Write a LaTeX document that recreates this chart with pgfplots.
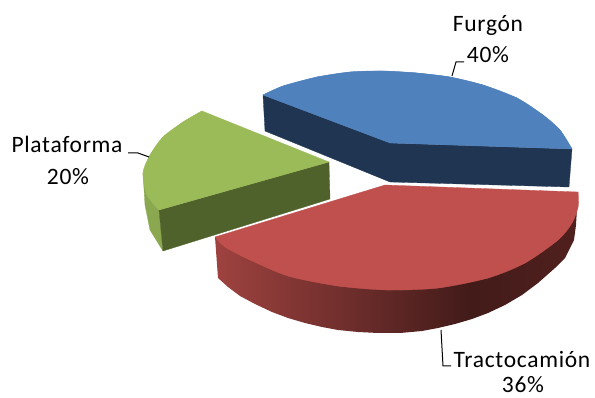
\documentclass[border=0pt]{standalone}
\usepackage{fontspec}
\setmainfont{Carlito}[LetterSpace=3]
\usepackage{pgfplots}
\pgfplotsset{compat=1.18}
\definecolor{blueTop}{RGB}{79,129,189}
\definecolor{blueSide}{RGB}{31,53,82}
\definecolor{greenTop}{RGB}{155,187,89}
\definecolor{greenSide}{RGB}{79,98,44}
\definecolor{greenEdge}{RGB}{138,168,80}
\definecolor{redTop}{RGB}{192,80,77}
\tikzset{lab/.style={font=\fontsize{23.5}{23.5}\selectfont, anchor=base, text=black, inner sep=0pt}}
% outer wall of the red slice: light on the left, darkest at about 70 percent of its width
\pgfdeclarehorizontalshading{redwall}{100bp}{
  rgb(0bp)=(0.62,0.26,0.25);
  rgb(25bp)=(0.62,0.26,0.25);
  rgb(60bp)=(0.26,0.106,0.098);
  rgb(75bp)=(0.314,0.125,0.118);
  rgb(100bp)=(0.314,0.125,0.118)}
\begin{document}
\begin{tikzpicture}
\useasboundingbox (0,0) rectangle (595pt,398pt);
\begin{axis}[
  at={(0,0)}, anchor=south west,
  scale only axis, width=595pt, height=398pt,
  xmin=0, xmax=595, ymin=0, ymax=398, y dir=reverse,
  hide axis, clip=false,
  every axis plot/.append style={line width=0.3pt},
]
% Furgón, 40%: wall, then top face
\addplot[fill=blueSide, draw=blueSide] coordinates {(263,95) (265,131) (390,182) (569,187) (572,149) (390,143)} -- cycle;
\addplot[fill=blueTop, draw=blueTop] coordinates {(390,143) (263,95) (283,86) (317,77) (350,72) (383,71) (417,73) (450,77) (483,85) (517,98) (543,115) (560,130) (572,149)} -- cycle;
\addplot[fill=blueTop, draw=blueTop, smooth] coordinates {(263,95) (283,86) (317,77) (350,72) (383,71) (417,73) (450,77) (483,85) (517,98) (543,115) (560,130) (572,149)};
% Plataforma, 20%
\addplot[fill=greenEdge, draw=greenEdge] coordinates {(143,173) (145,205) (150,230) (163,251) (159,210) (147,195)} -- cycle;
\addplot[fill=greenSide, draw=greenSide] coordinates {(159,210) (329,162) (330,199) (163,251)} -- cycle;
\addplot[fill=greenTop, draw=greenTop] coordinates {(329,162) (202,111) (183,122) (163,137) (150,155) (143,173) (147,195) (159,210)} -- cycle;
\addplot[fill=greenTop, draw=greenTop, smooth] coordinates {(202,111) (183,122) (163,137) (150,155) (143,173) (147,195) (159,210)};
% Tractocamión, 36%: shaded outer wall, its upper edge hidden under the top face
\addplot[shade, shading=redwall, draw=none] coordinates {
  (215,237) (240,240) (300,260) (380,270) (460,265) (530,240) (570,205) (578,192)
  (576,225) (574,240) (565,258) (555,268) (538,283) (522,295) (505,305) (488,313)
  (472,319) (455,324) (438,328) (422,331) (400,333) (378,333) (358,332) (338,330) (322,327) (305,323)
  (288,318) (272,312) (255,304) (240,296) (228,287) (218,278)} -- cycle;
\addplot[fill=redTop, draw=redTop] coordinates {(385,185) (215,237) (225,247) (248,259) (288,276) (338,286) (388,290) (438,288) (488,278) (525,263) (558,240) (572,223) (578,207) (578,192)} -- cycle;
\addplot[fill=redTop, draw=redTop, smooth] coordinates {(215,237) (225,247) (248,259) (288,276) (338,286) (388,290) (438,288) (488,278) (525,263) (558,240) (572,223) (578,207) (578,192)};
% leader lines
\addplot[black, line width=1pt] coordinates {(452,76) (456,62) (464,62)};
\addplot[black, line width=1pt] coordinates {(128,153) (138,153) (149,157)};
\addplot[black, line width=1pt] coordinates {(441,330) (443,366) (451,366)};
% labels
\node[lab] at (axis cs:488,32) {Furgón};
\node[lab] at (axis cs:488,63) {40\%};
\node[lab] at (axis cs:67,153) {Plataforma};
\node[lab] at (axis cs:68,185) {20\%};
\node[lab] at (axis cs:522,367) {Tractocamión};
\node[lab] at (axis cs:523,392) {36\%};
\end{axis}
\end{tikzpicture}
\end{document}
